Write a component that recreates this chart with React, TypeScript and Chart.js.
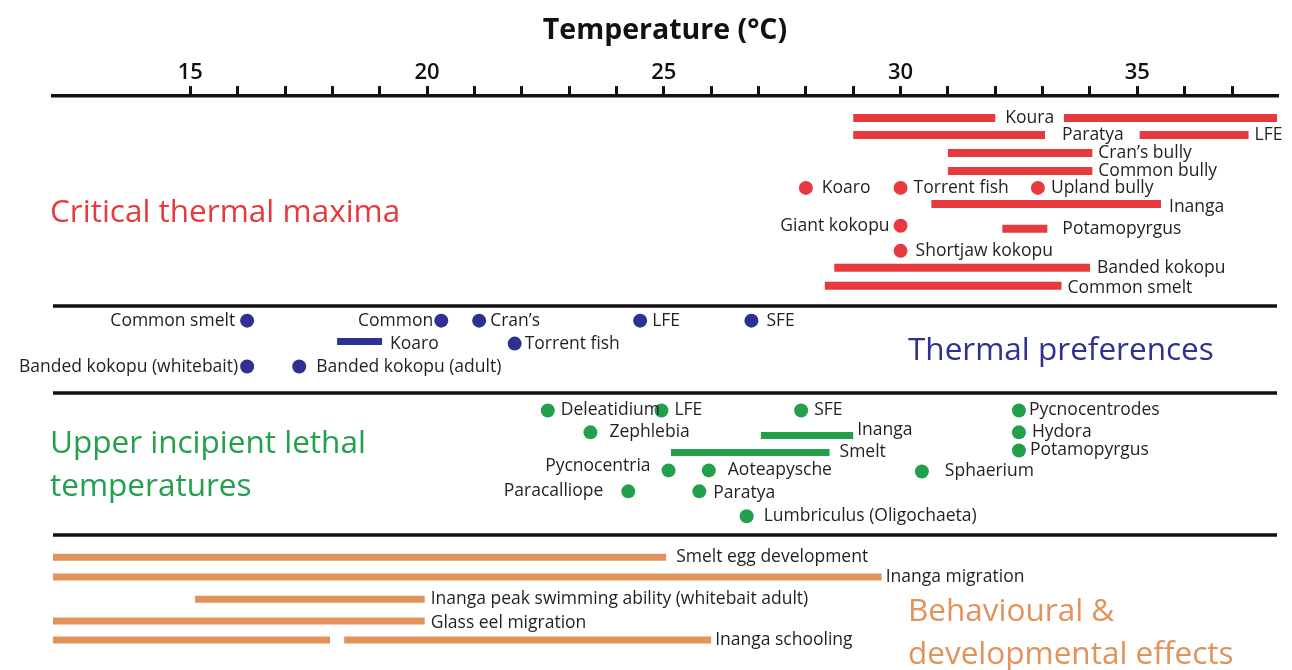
import React, { useEffect, useRef } from 'react';
import { Chart, registerables } from 'chart.js';

Chart.register(...registerables);

// Temperature axis (°C)
const T_MIN = 12.1;
const T_MAX = 37.95;
const TICK_VALUES = [15, 16, 17, 18, 19, 20, 21, 22, 23, 24, 25, 26, 27, 28, 29, 30, 31, 32, 33, 34, 35, 36, 37];
const TICK_LABELS = [15, 20, 25, 30, 35];

// Vertical lanes: 0 sits on the axis line, LANE_MAX at the bottom edge
const LANE_MAX = 32;
const DIVIDER_LANES = [11.69, 16.53, 24.49];

type Span = { name: string; lo: number; hi: number; lane: number; labelLane?: number };
type Spot = { name: string; t: number; lane: number; side?: 'left'; labelLane?: number };

// Critical thermal maxima
const ctmSpans: Span[] = [
  { name: 'Koura', lo: 29.0, hi: 32.0, lane: 1.22 },
  { name: '', lo: 33.45, hi: 37.95, lane: 1.22 },
  { name: 'Paratya', lo: 29.0, hi: 33.05, lane: 2.17 },
  { name: 'LFE', lo: 35.05, hi: 37.35, lane: 2.17 },
  { name: 'Cran’s bully', lo: 31.0, hi: 34.05, lane: 3.17 },
  { name: 'Common bully', lo: 31.0, hi: 34.05, lane: 4.17 },
  { name: 'Inanga', lo: 30.65, hi: 35.5, lane: 6.01, labelLane: 6.18 },
  { name: 'Potamopyrgus', lo: 32.15, hi: 33.1, lane: 7.4 },
  { name: 'Banded kokopu', lo: 28.6, hi: 34.0, lane: 9.57 },
  { name: 'Common smelt', lo: 28.4, hi: 33.4, lane: 10.57, labelLane: 10.68 },
];
const ctmSpots: Spot[] = [
  { name: 'Koaro', t: 28.0, lane: 5.12 },
  { name: 'Torrent fish', t: 30.0, lane: 5.12 },
  { name: 'Upland bully', t: 32.9, lane: 5.12 },
  { name: 'Giant kokopu', t: 30.0, lane: 7.23, side: 'left' },
  { name: 'Shortjaw kokopu', t: 30.0, lane: 8.63 },
];

// Thermal preferences
const prefSpans: Span[] = [
  { name: 'Koaro', lo: 18.1, hi: 19.05, lane: 13.69, labelLane: 13.8 },
];
const prefSpots: Spot[] = [
  { name: 'Common smelt', t: 16.2, lane: 12.52, side: 'left' },
  { name: 'Common', t: 20.3, lane: 12.52, side: 'left' },
  { name: 'Cran’s', t: 21.1, lane: 12.52 },
  { name: 'LFE', t: 24.5, lane: 12.52 },
  { name: 'SFE', t: 26.85, lane: 12.52 },
  { name: 'Torrent fish', t: 21.85, lane: 13.8 },
  { name: 'Banded kokopu (whitebait)', t: 16.2, lane: 15.08, side: 'left' },
  { name: 'Banded kokopu (adult)', t: 17.3, lane: 15.08 },
];

// Upper incipient lethal temperatures
const uiltSpans: Span[] = [
  { name: 'Inanga', lo: 27.05, hi: 29.0, lane: 18.92, labelLane: 18.6 },
  { name: 'Smelt', lo: 25.15, hi: 28.5, lane: 19.87 },
];
const uiltSpots: Spot[] = [
  { name: 'Deleatidium', t: 22.55, lane: 17.53 },
  { name: 'LFE', t: 24.95, lane: 17.53 },
  { name: 'SFE', t: 27.9, lane: 17.53 },
  { name: 'Pycnocentrodes', t: 32.5, lane: 17.53 },
  { name: 'Zephlebia', t: 23.45, lane: 18.75 },
  { name: 'Hydora', t: 32.5, lane: 18.75 },
  { name: 'Potamopyrgus', t: 32.5, lane: 19.76 },
  { name: 'Pycnocentria', t: 25.1, lane: 20.87, side: 'left', labelLane: 20.65 },
  { name: 'Aoteapysche', t: 25.95, lane: 20.87 },
  { name: 'Sphaerium', t: 30.45, lane: 20.93 },
  { name: 'Paracalliope', t: 24.25, lane: 22.04, side: 'left' },
  { name: 'Paratya', t: 25.75, lane: 22.04, labelLane: 22.15 },
  { name: 'Lumbriculus (Oligochaeta)', t: 26.75, lane: 23.43 },
];

// Behavioural & developmental effects
const behSpans: Span[] = [
  { name: 'Smelt egg development', lo: 12.1, hi: 25.05, lane: 25.71 },
  { name: 'Inanga migration', lo: 12.1, hi: 29.6, lane: 26.82 },
  { name: 'Inanga peak swimming ability (whitebait adult)', lo: 15.1, hi: 19.95, lane: 28.05 },
  { name: 'Glass eel migration', lo: 12.1, hi: 19.95, lane: 29.27, labelLane: 29.38 },
  { name: '', lo: 12.1, hi: 17.95, lane: 30.33 },
  { name: 'Inanga schooling', lo: 18.25, hi: 26.0, lane: 30.33 },
];

const FONT = "'Open Sans', 'Noto Sans', sans-serif";
const INK = '#231f20';
const RED = '#e63a3f';
const BLUE = '#2e3192';
const GREEN = '#23a04c';
const ORANGE = '#e2925b';

const SECTIONS = [
  { key: 'ctm', spans: ctmSpans, spots: ctmSpots, color: RED, bar: 8,
    title: ['Critical thermal maxima'], titleSide: 'left', titleLanes: [6.51] },
  { key: 'pref', spans: prefSpans, spots: prefSpots, color: BLUE, bar: 7,
    title: ['Thermal preferences'], titleSide: 'right', titleLanes: [14.19] },
  { key: 'uilt', spans: uiltSpans, spots: uiltSpots, color: GREEN, bar: 7,
    title: ['Upper incipient lethal', 'temperatures'], titleSide: 'left', titleLanes: [19.42, 21.81] },
  { key: 'beh', spans: behSpans, spots: [] as Spot[], color: ORANGE, bar: 7,
    title: ['Behavioural &', 'developmental effects'], titleSide: 'right', titleLanes: [28.77, 31.16] },
];

const DOT_RADIUS = 7;
const BAR_GAP = 6;
const DOT_GAP = 13;
// Per-label spacing between a mark and its text
const LABEL_GAP: Record<string, number> = {
  'ctm:Koura': 10, 'ctm:Paratya': 17, 'ctm:Potamopyrgus': 15, 'ctm:Inanga': 8, 'ctm:Banded kokopu': 7,
  'ctm:Koaro': 16, 'ctm:Shortjaw kokopu': 15, 'ctm:Giant kokopu': 11,
  'pref:Common smelt': 12, 'pref:Common': 8, 'pref:Cran’s': 11, 'pref:LFE': 12, 'pref:SFE': 15,
  'pref:Torrent fish': 10, 'pref:Banded kokopu (whitebait)': 9, 'pref:Banded kokopu (adult)': 17, 'pref:Koaro': 8,
  'uilt:Zephlebia': 19, 'uilt:Pycnocentrodes': 10, 'uilt:Potamopyrgus': 11, 'uilt:Pycnocentria': 18,
  'uilt:Aoteapysche': 19, 'uilt:Sphaerium': 23, 'uilt:Paracalliope': 25, 'uilt:Paratya': 14,
  'uilt:Lumbriculus (Oligochaeta)': 17, 'uilt:Inanga': 4, 'uilt:Smelt': 10,
  'beh:Smelt egg development': 10, 'beh:Inanga migration': 4, 'beh:Inanga schooling': 4,
};

const annotations = {
  id: 'annotations',
  beforeDatasetsDraw(chart: any) {
    const { ctx, chartArea, scales } = chart;
    const y = scales.y;
    ctx.save();
    ctx.strokeStyle = '#111';
    ctx.lineWidth = 3.5;
    DIVIDER_LANES.forEach((lane) => {
      const py = Math.round(y.getPixelForValue(lane));
      ctx.beginPath();
      ctx.moveTo(chartArea.left, py);
      ctx.lineTo(chartArea.right, py);
      ctx.stroke();
    });
    ctx.restore();
  },
  afterDatasetsDraw(chart: any) {
    const { ctx, chartArea, scales } = chart;
    const x = scales.x;
    const y = scales.y;
    ctx.save();
    ctx.textBaseline = 'middle';

    SECTIONS.forEach((s) => {
      // section heading
      ctx.fillStyle = s.color;
      ctx.font = `31.5px ${FONT}`;
      ctx.textAlign = 'left';
      const tx = s.titleSide === 'left'
        ? chartArea.left - 3
        : chartArea.left + (chartArea.right - chartArea.left) * 0.6985;
      s.title.forEach((line, i) => ctx.fillText(line, tx, y.getPixelForValue(s.titleLanes[i])));

      // mark labels
      ctx.fillStyle = INK;
      ctx.font = `500 17.5px ${FONT}`;
      s.spans.forEach((sp) => {
        if (!sp.name) return;
        const gap = LABEL_GAP[`${s.key}:${sp.name}`] ?? BAR_GAP;
        ctx.textAlign = 'left';
        ctx.fillText(sp.name, x.getPixelForValue(sp.hi) + gap, y.getPixelForValue(sp.labelLane ?? sp.lane));
      });
      s.spots.forEach((p) => {
        const gap = LABEL_GAP[`${s.key}:${p.name}`] ?? DOT_GAP;
        const px = x.getPixelForValue(p.t);
        const py = y.getPixelForValue(p.labelLane ?? p.lane);
        if (p.side === 'left') {
          ctx.textAlign = 'right';
          ctx.fillText(p.name, px - gap, py);
        } else {
          ctx.textAlign = 'left';
          ctx.fillText(p.name, px + gap, py);
        }
      });
    });
    ctx.restore();
  },
};

function buildDatasets() {
  const sets: any[] = [];
  SECTIONS.forEach((s) => {
    s.spans.forEach((sp) => {
      sets.push({
        data: [{ x: sp.lo, y: sp.lane }, { x: sp.hi, y: sp.lane }],
        showLine: true,
        borderColor: s.color,
        borderWidth: s.bar,
        borderCapStyle: 'butt',
        pointRadius: 0,
        tension: 0,
        fill: false,
      });
    });
    if (s.spots.length) {
      sets.push({
        data: s.spots.map((p) => ({ x: p.t, y: p.lane })),
        showLine: false,
        backgroundColor: s.color,
        borderWidth: 0,
        pointRadius: DOT_RADIUS,
      });
    }
  });
  return sets;
}

export default function App() {
  const ref = useRef<HTMLCanvasElement>(null);

  useEffect(() => {
    const chart = new Chart(ref.current as HTMLCanvasElement, {
      type: 'scatter',
      data: { datasets: buildDatasets() },
      plugins: [annotations],
      options: {
        responsive: false,
        animation: false,
        events: [],
        layout: { autoPadding: false, padding: { top: 3, left: 53, right: 15, bottom: 0 } },
        plugins: {
          legend: { display: false },
          tooltip: { enabled: false },
        },
        scales: {
          x: {
            type: 'linear',
            position: 'top',
            min: T_MIN,
            max: T_MAX,
            bounds: 'data',
            afterBuildTicks: (axis: any) => {
              axis.ticks = TICK_VALUES.map((value) => ({ value }));
            },
            ticks: {
              autoSkip: false,
              maxRotation: 0,
              padding: 0,
              color: '#111',
              font: { family: FONT, size: 22, weight: '600' },
              callback: (v: any) => (TICK_LABELS.includes(Number(v)) ? String(v) : ''),
            },
            grid: {
              drawOnChartArea: false,
              drawTicks: true,
              tickLength: 10,
              lineWidth: 3,
              color: '#111',
            },
            border: { display: true, width: 3.5, color: '#111' },
            title: {
              display: true,
              text: 'Temperature (°C)',
              color: '#111',
              font: { family: FONT, size: 28.5, weight: 'bold' },
              padding: { top: 11, bottom: 11.5 },
            },
          },
          y: {
            type: 'linear',
            display: false,
            min: 0,
            max: LANE_MAX,
            reverse: true,
          },
        },
      } as any,
    });
    return () => chart.destroy();
  }, []);

  return (
    <div style={{ position: 'absolute', left: 0, top: 0, width: 1292, height: 670, background: '#fff' }}>
      <canvas ref={ref} width={1292} height={670} style={{ display: 'block' }} />
    </div>
  );
}
